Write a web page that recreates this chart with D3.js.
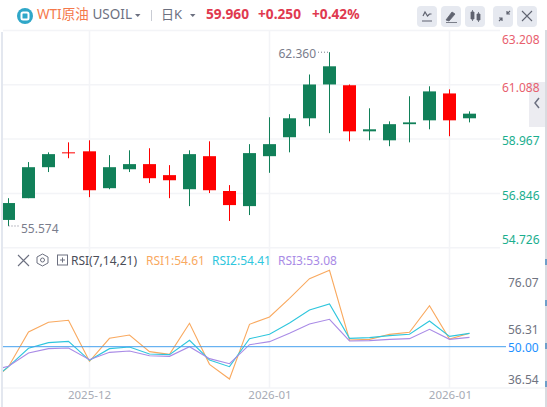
<!DOCTYPE html>
<html>
<head>
<meta charset="utf-8">
<script src="https://cdn.jsdelivr.net/npm/d3@7"></script>
<style>
  html, body { margin: 0; padding: 0; background: #fff; }
  svg { display: block; font-family: "Noto Sans", "Noto Sans CJK SC", sans-serif; }
  .domain { display: none; }
</style>
</head>
<body>
<svg id="chart" width="547" height="407"></svg>
<script>
// daily candles
const opens = [55.81, 56.66, 57.87, 58.45, 58.49, 57.05, 57.79, 57.99, 57.56, 57.01, 58.30, 56.94, 56.35, 58.30, 59.04, 59.78, 61.10, 61.07, 59.27, 58.92, 59.55, 59.70, 60.75, 59.78]
const highs = [56.66, 58.07, 58.45, 58.84, 58.92, 58.34, 58.53, 58.61, 57.95, 58.53, 58.88, 57.17, 58.77, 59.82, 59.94, 61.49, 62.36, 61.10, 60.17, 59.66, 60.64, 61.03, 60.91, 60.05]
const lows = [55.574, 56.66, 57.68, 58.22, 56.70, 57.01, 57.68, 57.25, 56.66, 56.35, 56.86, 55.77, 56.00, 57.65, 58.45, 59.47, 59.20, 58.88, 58.92, 58.69, 58.84, 59.35, 59.08, 59.62]
const closes = [56.47, 57.87, 58.38, 58.42, 56.97, 57.87, 57.99, 57.44, 57.36, 58.38, 56.97, 56.39, 58.42, 58.77, 59.78, 61.10, 61.81, 59.27, 59.35, 59.55, 59.62, 60.83, 59.70, 59.96]

// rsi values, first entry is the bar just off the left edge
const rsi1 = [34.31, 41.75, 56.07, 60.07, 60.90, 43.95, 53.46, 54.83, 47.95, 46.85, 59.66, 42.71, 36.65, 59.24, 62.27, 69.99, 78.11, 81.56, 52.77, 53.04, 55.11, 55.94, 66.96, 53.18, 55.52]
const rsi2 = [35.28, 41.75, 49.33, 51.67, 52.22, 44.37, 49.19, 49.88, 46.98, 46.71, 52.63, 44.50, 41.75, 53.32, 55.11, 59.79, 65.17, 67.64, 53.46, 53.73, 54.56, 55.11, 60.62, 54.28, 55.52]
const rsi3 = [39.96, 41.89, 47.40, 49.19, 49.46, 44.64, 47.67, 48.22, 46.29, 46.02, 50.01, 45.06, 42.99, 50.84, 52.08, 55.52, 59.38, 61.31, 52.36, 52.49, 53.04, 53.32, 57.18, 53.04, 53.87]

const priceTicks = [63.208, 61.088, 58.967, 56.846, 54.726]
const rsiTicks = [76.07, 56.31, 50, 36.54]
const dateTicks = [[4, '2025-12'], [13, '2026-01'], [22, '2026-01']]

const upColor = '#118059'
const downColor = '#ff0000'
const rsiColors = ['#f9a95f', '#2fc6dd', '#a98be6']

const svg = d3.select('#chart')
const xScale = d3.scaleLinear().domain([0, 23]).range([8.8, 469.95])
const x = i => Math.floor(xScale(i)) + 0.5
const y = d3.scaleLinear().domain([54.726, 63.208]).range([247.7, 30.5])
const yRsi = d3.scaleLinear().domain([50, 76.07]).range([346.7, 283.6])

svg.append('clipPath').attr('id', 'plot')
  .append('rect').attr('x', 3).attr('y', 30).attr('width', 497).attr('height', 360)

// frame
svg.append('rect').attr('x', 1).attr('y', 32).attr('width', 2).attr('height', 375).attr('fill', '#e3e7ef')
svg.append('rect').attr('x', 545).attr('y', 30).attr('width', 2).attr('height', 377).attr('fill', '#d9dbe0')
svg.selectAll('rect.mark').data([262, 303, 346, 384]).join('rect')
  .attr('x', 545).attr('y', d => d - 3).attr('width', 2).attr('height', 6).attr('fill', '#6f9fc9')

// grid
const grid = svg.append('g').attr('stroke', '#f3f4f7').attr('stroke-width', 1.5)
grid.selectAll('line.h').data(priceTicks).join('line')
  .attr('x1', 3).attr('x2', 500).attr('y1', d => y(d)).attr('y2', d => y(d))
grid.selectAll('line.v').data(dateTicks).join('line')
  .attr('x1', d => x(d[0])).attr('x2', d => x(d[0])).attr('y1', 30).attr('y2', 388)
grid.append('line').attr('x1', 3).attr('x2', 545).attr('y1', 388).attr('y2', 388)

// candles
const plot = svg.append('g').attr('clip-path', 'url(#plot)')
const candles = plot.selectAll('g.candle').data(d3.range(opens.length)).join('g').attr('class', 'candle')
const col = i => closes[i] >= opens[i] ? upColor : downColor
candles.append('line')
  .attr('x1', i => x(i)).attr('x2', i => x(i))
  .attr('y1', i => y(highs[i])).attr('y2', i => y(lows[i]))
  .attr('stroke', col).attr('stroke-width', 1)
candles.append('rect')
  .attr('x', i => x(i) - 6.5).attr('width', 13)
  .attr('y', i => y(Math.max(opens[i], closes[i])))
  .attr('height', i => Math.max(1, Math.abs(y(opens[i]) - y(closes[i]))))
  .attr('fill', col)

// rsi lines
const line = d3.line().x((d, i) => i === 0 ? x(0) - 20 : x(i - 1)).y(d => yRsi(d))
plot.selectAll('path.rsi').data([rsi1, rsi2, rsi3]).join('path')
  .attr('d', line).attr('fill', 'none')
  .attr('stroke', (d, i) => rsiColors[i]).attr('stroke-width', 1.1)
svg.append('line').attr('x1', 3).attr('x2', 506).attr('y1', yRsi(50)).attr('y2', yRsi(50))
  .attr('stroke', '#45a0ee').attr('stroke-width', 1)

// collapse tab, goes under the axis labels
svg.append('rect').attr('x', 529).attr('y', 82).attr('width', 16).attr('height', 45).attr('fill', '#ececf1')
svg.append('path').attr('d', 'M539,108 l-4,-5 l4,-5').attr('fill', 'none').attr('stroke', '#6c7080').attr('stroke-width', 1.5)

// price axis
const priceDy = [9, 3, 2, 2, -8]
const priceAxis = svg.append('g').attr('transform', 'translate(500,0)')
  .call(d3.axisRight(y).tickValues(priceTicks).tickSize(0).tickPadding(2).tickFormat(d3.format('.3f')))
priceAxis.selectAll('text')
  .attr('font-size', 12).attr('font-family', '"Noto Sans"')
  .attr('fill', d => d > 60 ? '#e8606e' : '#1aae8e')
  .attr('transform', (d, i) => `translate(0,${priceDy[i]})`)

// rsi axis
const rsiDy = [-0.5, -1.5, 0.5, 0.5]
const rsiAxis = svg.append('g').attr('transform', 'translate(506,0)')
  .call(d3.axisRight(yRsi).tickValues(rsiTicks).tickSize(0).tickPadding(2).tickFormat(d3.format('.2f')))
rsiAxis.selectAll('text')
  .attr('font-size', 12).attr('font-family', '"Noto Sans"')
  .attr('fill', d => d === 50 ? '#1e90ff' : '#6f7380')
  .attr('transform', (d, i) => `translate(0,${rsiDy[i]})`)

// date axis
const dateAxis = svg.append('g').attr('transform', 'translate(0,388)')
  .call(d3.axisBottom(xScale).tickValues(dateTicks.map(d => d[0])).tickSize(0).tickPadding(3)
    .tickFormat(d => dateTicks.find(t => t[0] === d)[1]))
dateAxis.selectAll('text').attr('font-size', 11.5).attr('font-family', '"Noto Sans"').attr('fill', '#a7abb5')

// high / low notes
const noteColor = '#7a7d8c'
svg.append('line').attr('x1', 318).attr('x2', x(16)).attr('y1', y(62.36)).attr('y2', y(62.36))
  .attr('stroke', noteColor).attr('stroke-dasharray', '1 2')
svg.append('text').attr('x', 316).attr('y', y(62.36) + 5.5).attr('text-anchor', 'end')
  .attr('font-size', 12).attr('fill', noteColor).text('62.360')
svg.append('line').attr('x1', x(0)).attr('x2', 20).attr('y1', y(55.574)).attr('y2', y(55.574))
  .attr('stroke', noteColor).attr('stroke-dasharray', '1 2')
svg.append('text').attr('x', 21).attr('y', y(55.574) + 7)
  .attr('font-size', 12).attr('fill', noteColor).text('55.574')

// header
const head = svg.append('g')
head.append('circle').attr('cx', 25).attr('cy', 16).attr('r', 8).attr('fill', '#2fa7c8')
head.append('rect').attr('x', 21.5).attr('y', 12.5).attr('width', 7).attr('height', 7).attr('rx', 1.5)
  .attr('fill', 'none').attr('stroke', '#fff').attr('stroke-width', 2)
const headText = [
  [37, 'WTI原油', '#f5784a', 13.5, 400],
  [92.5, 'USOIL', '#6c7080', 13.5, 400],
  [161, '日K', '#6c7080', 13, 400],
  [206, '59.960', '#e0394f', 13.7, 700],
  [258, '+0.250', '#e0394f', 13.7, 700],
  [312, '+0.42%', '#e0394f', 13.7, 700]
]
head.selectAll('text').data(headText).join('text')
  .attr('x', d => d[0]).attr('y', 19)
  .attr('fill', d => d[2]).attr('font-size', d => d[3]).attr('font-weight', d => d[4]).text(d => d[1])
head.selectAll('path.tri').data([135, 190]).join('path')
  .attr('d', d => `M${d},14 h5.5 l-2.75,3 z`).attr('fill', '#6c7080')
head.append('line').attr('x1', 151.5).attr('x2', 151.5).attr('y1', 10).attr('y2', 21).attr('stroke', '#c9ccd4')

// toolbar buttons
const buttons = [417, 441, 465, 493, 517]
head.selectAll('rect.btn').data(buttons).join('rect')
  .attr('x', d => d).attr('y', 6).attr('width', 20).attr('height', 21).attr('rx', 4).attr('fill', '#e6e9f0')
const icon = '#5f6370'
head.append('path').attr('d', 'M423,16 l2,-4 l2.5,4 l2,-2 h2 M422,21 h10').attr('fill', 'none').attr('stroke', icon).attr('stroke-width', 1.2)
head.append('path').attr('d', 'M446,20 l6,-8 l3,2 l-6,7 z M446,22.5 h11').attr('fill', icon).attr('stroke', icon).attr('stroke-width', 0.8)
head.append('path').attr('d', 'M471,12 h3 v7 h-3 z M472.5,10 v11 M477,14 h3 v6 h-3 z M478.5,12 v10').attr('fill', icon).attr('stroke', icon).attr('stroke-width', 0.8)
head.append('path').attr('d', 'M499,21 l3,-3 M502,21 v-3 h-3 M510,11 l-3,3 M507,11 v3 h3').attr('fill', 'none').attr('stroke', icon).attr('stroke-width', 1.2)
head.append('path').attr('d', 'M522,11 l10,10 M532,11 l-10,10').attr('fill', 'none').attr('stroke', icon).attr('stroke-width', 1.1)

// rsi legend
svg.append('path').attr('d', 'M18,255 l11,11 M29,255 l-11,11').attr('stroke', '#6c7080').attr('stroke-width', 1.1)
svg.append('path').attr('d', 'M42.5,254 l5.5,3 v6 l-5.5,3 l-5.5,-3 v-6 z').attr('fill', 'none').attr('stroke', '#6c7080')
svg.append('circle').attr('cx', 42.5).attr('cy', 260).attr('r', 2).attr('fill', 'none').attr('stroke', '#6c7080')
svg.append('rect').attr('x', 57.5).attr('y', 255).attr('width', 10).attr('height', 10).attr('fill', 'none').attr('stroke', '#6c7080')
svg.append('path').attr('d', 'M60,260 h5 M62.5,257.5 v5').attr('stroke', '#6c7080')
const legend = [
  [71, 'RSI(7,14,21)', '#4a4d58'],
  [146, 'RSI1:54.61', rsiColors[0]],
  [212, 'RSI2:54.41', rsiColors[1]],
  [278, 'RSI3:53.08', rsiColors[2]]
]
svg.append('g').selectAll('text').data(legend).join('text')
  .attr('x', d => d[0]).attr('y', 265).attr('font-size', 12)
  .attr('fill', d => d[2]).text(d => d[1])
</script>
</body>
</html>
